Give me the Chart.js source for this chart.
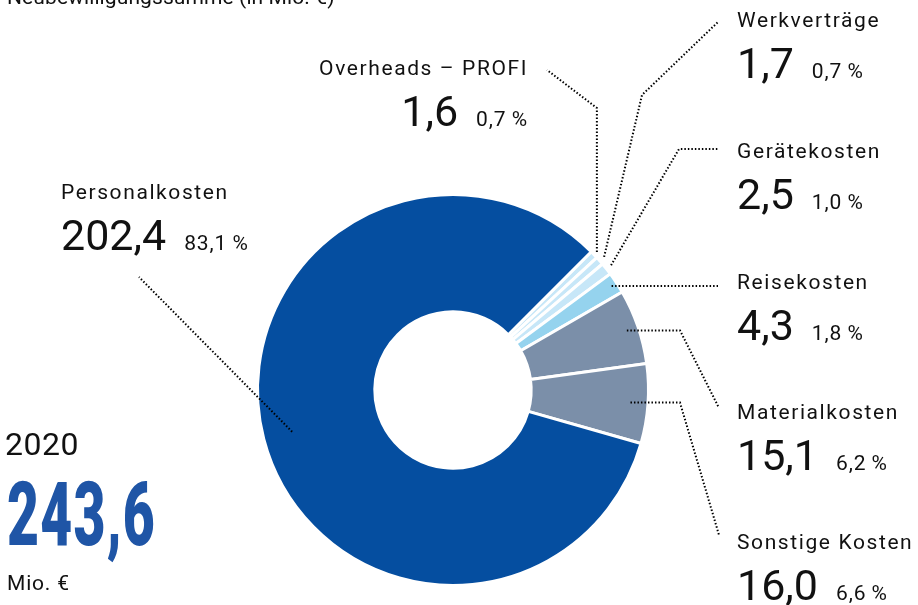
<!DOCTYPE html>
<html>
<head>
<meta charset="utf-8">
<script src="https://cdn.jsdelivr.net/npm/chart.js@4"></script>
<style>
    html, body { margin: 0; padding: 0; background: #fff; }
    #wrap { position: relative; width: 918px; height: 605px; overflow: hidden; font-family: Roboto, sans-serif; color: #111; }
    canvas { position: absolute; left: 0; top: 0; }
    .t { position: absolute; white-space: nowrap; line-height: 1; }
    .name { font-size: 21px; letter-spacing: 1.6px; }
    .num { font-size: 43px; }
    .pct { font-size: 21px; letter-spacing: 0.9px; margin-left: 18px; }
</style>
</head>
<body>
<div id="wrap"><canvas id="chart" width="918" height="605"></canvas></div>
<script>
// data
const categories = ['Overheads – PROFI', 'Werkverträge', 'Gerätekosten', 'Reisekosten', 'Materialkosten', 'Sonstige Kosten', 'Personalkosten'];
const amounts = [1.6, 1.7, 2.5, 4.3, 15.1, 16.0, 202.4];
const shares = [0.7, 0.7, 1.0, 1.8, 6.2, 6.6, 83.1];
const subtitle = 'Neubewilligungssumme (in Mio. €)';
const year = '2020';
const total = 243.6;
const unit = 'Mio. €';

// styling / layout
const colors = ['#c7e7f8', '#c7e7f8', '#c7e7f8', '#95d3ee', '#7b8fa9', '#7b8fa9', '#054ea0'];
const labelPos = [
    { x: 528, y: 75, align: 'right' },
    { x: 737, y: 27 },
    { x: 737, y: 158 },
    { x: 737, y: 289 },
    { x: 737, y: 419 },
    { x: 737, y: 549 },
    { x: 61, y: 199 }
];
// how far out along the slice the leader starts (fraction of outer radius)
const leaderReach = [1.02, 1.03, 1.03, 0.97, 0.94, 0.91, 0.85];
const leaderPaths = [
    { elbow: { y: 108 }, end: { x: 547, y: 70 } },
    { elbow: { x: 642, y: 95 }, end: { x: 718, y: 22 } },
    { elbow: { x: 679, y: 149 }, end: { x: 718, y: 149 } },
    { end: { x: 718 } },
    { elbow: { x: 680 }, end: { x: 719, y: 408 } },
    { elbow: { x: 680 }, end: { x: 719, y: 535 } },
    { end: { x: 139, y: 277 } }
];

const wrap = document.getElementById('wrap');

function fmt(v) {
    return v.toFixed(1).replace('.', ',');
}

function place(el, x, baseline, align) {
    const probe = document.createElement('span');
    probe.style.cssText = 'display:inline-block;width:0;height:0;vertical-align:baseline;';
    el.appendChild(probe);
    wrap.appendChild(el);
    el.style.top = '0px';
    el.style.top = (baseline - probe.offsetTop) + 'px';
    if (align === 'right') el.style.right = (918 - x) + 'px';
    else el.style.left = x + 'px';
}

function text(cls, str, x, baseline, align, css) {
    const el = document.createElement('div');
    el.className = 't ' + cls;
    el.textContent = str;
    if (css) el.style.cssText = css;
    place(el, x, baseline, align);
    return el;
}

const leaderPlugin = {
    id: 'leaders',
    afterDraw(chart) {
        const ctx = chart.ctx;
        const arcs = chart.getDatasetMeta(0).data;
        ctx.save();
        ctx.strokeStyle = '#000';
        ctx.lineWidth = 2;
        ctx.setLineDash([1.5, 2]);
        arcs.forEach((arc, i) => {
            const p = arc.getProps(['x', 'y', 'startAngle', 'endAngle', 'outerRadius'], true);
            const mid = (p.startAngle + p.endAngle) / 2;
            const r = p.outerRadius * leaderReach[i];
            const ax = p.x + Math.cos(mid) * r;
            const ay = p.y + Math.sin(mid) * r;
            const L = leaderPaths[i];
            ctx.beginPath();
            ctx.moveTo(ax, ay);
            if (L.elbow) ctx.lineTo(L.elbow.x ?? ax, L.elbow.y ?? ay);
            ctx.lineTo(L.end.x, L.end.y ?? ay);
            ctx.stroke();
        });
        ctx.restore();
    }
};

new Chart(document.getElementById('chart').getContext('2d'), {
    type: 'doughnut',
    data: {
        labels: categories,
        datasets: [{
            data: amounts,
            backgroundColor: colors,
            borderColor: '#ffffff',
            borderWidth: 3
        }]
    },
    options: {
        responsive: false,
        animation: false,
        rotation: 45,
        cutout: '40%',
        layout: { padding: { left: 256, right: 268, top: 193, bottom: 18 } },
        events: [],
        plugins: {
            legend: { display: false },
            tooltip: { enabled: false }
        }
    },
    plugins: [leaderPlugin]
});

// labels
categories.forEach((c, i) => {
    const pos = labelPos[i];
    text('name', c, pos.x, pos.y, pos.align);
    const line = document.createElement('div');
    line.className = 't';
    const n = document.createElement('span');
    n.className = 'num';
    n.textContent = fmt(amounts[i]);
    const p = document.createElement('span');
    p.className = 'pct';
    p.textContent = fmt(shares[i]) + '\u2009%';
    line.appendChild(n);
    line.appendChild(p);
    place(line, pos.x, pos.y + 51, pos.align);
});

text('', subtitle, 7, 4, 'left', 'font-size:21px;letter-spacing:0.1px;');
text('', year, 5, 455, 'left', 'font-size:32px;letter-spacing:0.5px;');
text('', fmt(total), 7, 545, 'left', 'font-size:89px;font-weight:900;color:#1f55a6;transform:scaleX(0.62);transform-origin:0 0;letter-spacing:2px;');
text('', unit, 7, 590, 'left', 'font-size:21px;letter-spacing:0.8px;');
</script>
</body>
</html>
